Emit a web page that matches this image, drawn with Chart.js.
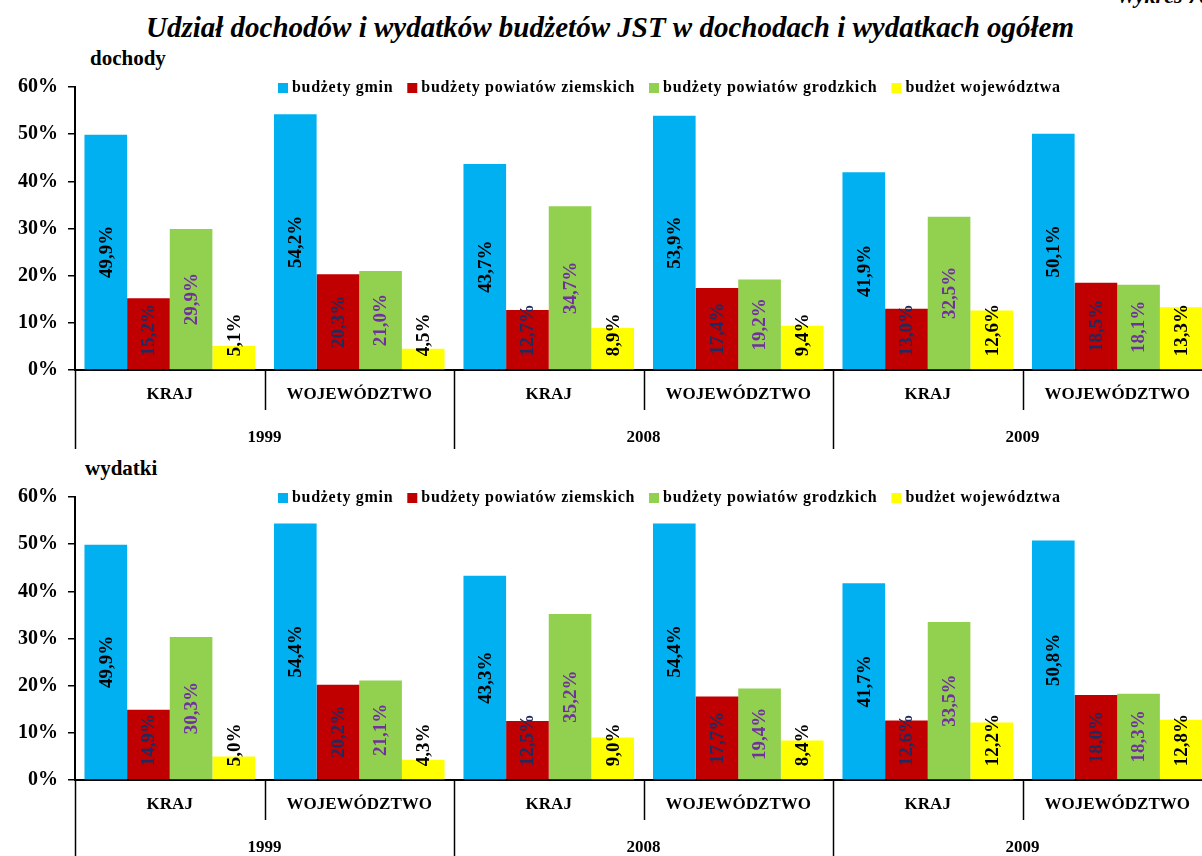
<!DOCTYPE html>
<html lang="pl">
<head>
<meta charset="utf-8">
<title>Udział dochodów i wydatków budżetów JST</title>
<script src="https://cdn.jsdelivr.net/npm/chart.js@4.4.1/dist/chart.umd.min.js"></script>
<style>
    html, body { margin: 0; padding: 0; background: #fff; }
    body { width: 1202px; height: 856px; overflow: hidden; position: relative; font-family: 'Liberation Serif', 'Times New Roman', serif; }
    .tytul { position: absolute; left: 0; width: 1220px; top: 9px; text-align: center; font-size: 29px; font-weight: bold; font-style: italic; line-height: 36px; }
    .wykres-nr { position: absolute; right: -8px; top: -17px; font-size: 22px; font-weight: bold; font-style: italic; }
    .podpis { position: absolute; font-size: 21px; font-weight: bold; }
    canvas { position: absolute; left: 0; }
</style>
</head>
<body>
<div class="wykres-nr">Wykres 70</div>
<div class="tytul">Udział dochodów i wydatków budżetów JST w dochodach i wydatkach ogółem</div>
<div class="podpis" style="left:90px; top:46px;">dochody</div>
<div class="podpis" style="left:85px; top:456px;">wydatki</div>
<canvas id="wykres-dochody" width="1212" height="420" style="top:40px;"></canvas>
<canvas id="wykres-wydatki" width="1212" height="420" style="top:450px;"></canvas>
<script>
(function() {
    const kategorie = ['KRAJ', 'WOJEWÓDZTWO', 'KRAJ', 'WOJEWÓDZTWO', 'KRAJ', 'WOJEWÓDZTWO'];
    const lata = ['1999', '2008', '2009'];
    const serie = ['budżety gmin', 'budżety powiatów ziemskich', 'budżety powiatów grodzkich', 'budżet województwa'];

    const dochodyGmin = [49.9, 54.2, 43.7, 53.9, 41.9, 50.1];
    const dochodyPowZiem = [15.2, 20.3, 12.7, 17.4, 13.0, 18.5];
    const dochodyPowGrodz = [29.9, 21.0, 34.7, 19.2, 32.5, 18.1];
    const dochodyWoj = [5.1, 4.5, 8.9, 9.4, 12.6, 13.3];

    const wydatkiGmin = [49.9, 54.4, 43.3, 54.4, 41.7, 50.8];
    const wydatkiPowZiem = [14.9, 20.2, 12.5, 17.7, 12.6, 18.0];
    const wydatkiPowGrodz = [30.3, 21.1, 35.2, 19.4, 33.5, 18.3];
    const wydatkiWoj = [5.0, 4.3, 9.0, 8.4, 12.2, 12.8];

    const kolory = ['#00B0F0', '#C00000', '#92D050', '#FFFF00'];
    const koloryEtykiet = ['#000000', '#1F2A5E', '#7030A0', '#000000'];
    const czcionka = "'Liberation Serif', 'Times New Roman', serif";

    // etykiety wartości obrócone o 90 stopni
    const etykietyPlugin = {
        id: 'etykiety',
        afterDatasetsDraw(chart) {
            const ctx = chart.ctx;
            ctx.save();
            ctx.font = 'bold 19px ' + czcionka;
            ctx.textAlign = 'center';
            ctx.textBaseline = 'middle';
            chart.data.datasets.forEach((ds, di) => {
                const meta = chart.getDatasetMeta(di);
                meta.data.forEach((bar, i) => {
                    const tekst = ds.data[i].toFixed(1).replace('.', ',') + '%';
                    const w = ctx.measureText(tekst).width;
                    let srodek = (bar.y + bar.base) / 2;
                    if (srodek + w / 2 > bar.base - 13) {
                        srodek = bar.base - 13 - w / 2;
                    }
                    ctx.save();
                    ctx.translate(bar.x + 1, srodek);
                    ctx.rotate(-Math.PI / 2);
                    ctx.fillStyle = koloryEtykiet[di];
                    ctx.fillText(tekst, 0, 0);
                    ctx.restore();
                });
            });
            ctx.restore();
        }
    };

    // dwupoziomowa oś kategorii
    const osPlugin = {
        id: 'osGrupy',
        afterDraw(chart) {
            const ctx = chart.ctx;
            const x = chart.scales.x;
            const y0 = chart.chartArea.bottom;
            const szer = (chart.chartArea.right - chart.chartArea.left) / kategorie.length;
            ctx.save();
            ctx.strokeStyle = '#000';
            ctx.lineWidth = 1.5;
            for (let i = 0; i <= kategorie.length; i++) {
                const px = Math.round(chart.chartArea.left + i * szer) + 0.5;
                ctx.beginPath();
                ctx.moveTo(px, y0);
                ctx.lineTo(px, y0 + (i % 2 === 0 ? 79 : 40));
                ctx.stroke();
            }
            ctx.fillStyle = '#000';
            ctx.textAlign = 'center';
            ctx.textBaseline = 'middle';
            ctx.font = 'bold 17px ' + czcionka;
            kategorie.forEach((k, i) => {
                ctx.fillText(k, x.getPixelForValue(i), y0 + 25);
            });
            lata.forEach((rok, j) => {
                const px = (x.getPixelForValue(j * 2) + x.getPixelForValue(j * 2 + 1)) / 2;
                ctx.fillText(rok, px, y0 + 68);
            });
            ctx.restore();
        }
    };

    // legenda w obszarze wykresu
    const legendaPlugin = {
        id: 'legenda',
        afterDraw(chart) {
            const ctx = chart.ctx;
            const yL = chart.chartArea.top + 1;
            let px = 278;
            ctx.save();
            ctx.font = 'bold 16px ' + czcionka;
            ctx.letterSpacing = '0.7px';
            ctx.textBaseline = 'middle';
            ctx.textAlign = 'left';
            chart.data.datasets.forEach((ds) => {
                ctx.fillStyle = ds.backgroundColor;
                ctx.fillRect(px, yL - 5, 10, 10);
                ctx.fillStyle = '#000';
                ctx.fillText(ds.label, px + 14, yL);
                px += 14 + ctx.measureText(ds.label).width + 14;
            });
            ctx.restore();
        }
    };

    function rysuj(id, wartosci) {
        const ctx = document.getElementById(id).getContext('2d');
        return new Chart(ctx, {
            type: 'bar',
            data: {
                labels: kategorie,
                datasets: serie.map((nazwa, i) => ({
                    label: nazwa,
                    data: wartosci[i],
                    backgroundColor: kolory[i],
                    borderWidth: 0,
                    barPercentage: 1.0,
                    categoryPercentage: 0.9
                }))
            },
            options: {
                responsive: false,
                animation: false,
                devicePixelRatio: 1,
                layout: { padding: { top: 47, right: 0, bottom: 0, left: 0 } },
                scales: {
                    x: {
                        grid: { display: false },
                        border: { color: '#000', width: 2 },
                        ticks: { display: false },
                        afterFit: (s) => { s.height = 90; }
                    },
                    y: {
                        min: 0,
                        max: 60,
                        ticks: {
                            stepSize: 10,
                            color: '#000',
                            padding: 10,
                            font: { family: czcionka, size: 20, weight: 'bold' },
                            callback: (v) => v + '%'
                        },
                        grid: { drawOnChartArea: false, drawTicks: true, tickLength: 7, color: '#000', lineWidth: 1.5 },
                        border: { color: '#000', width: 2 },
                        afterFit: (s) => { s.width = 75; }
                    }
                },
                plugins: {
                    legend: { display: false },
                    tooltip: { enabled: false }
                }
            },
            plugins: [etykietyPlugin, osPlugin, legendaPlugin]
        });
    }

    rysuj('wykres-dochody', [dochodyGmin, dochodyPowZiem, dochodyPowGrodz, dochodyWoj]);
    rysuj('wykres-wydatki', [wydatkiGmin, wydatkiPowZiem, wydatkiPowGrodz, wydatkiWoj]);
})();
</script>
</body>
</html>
